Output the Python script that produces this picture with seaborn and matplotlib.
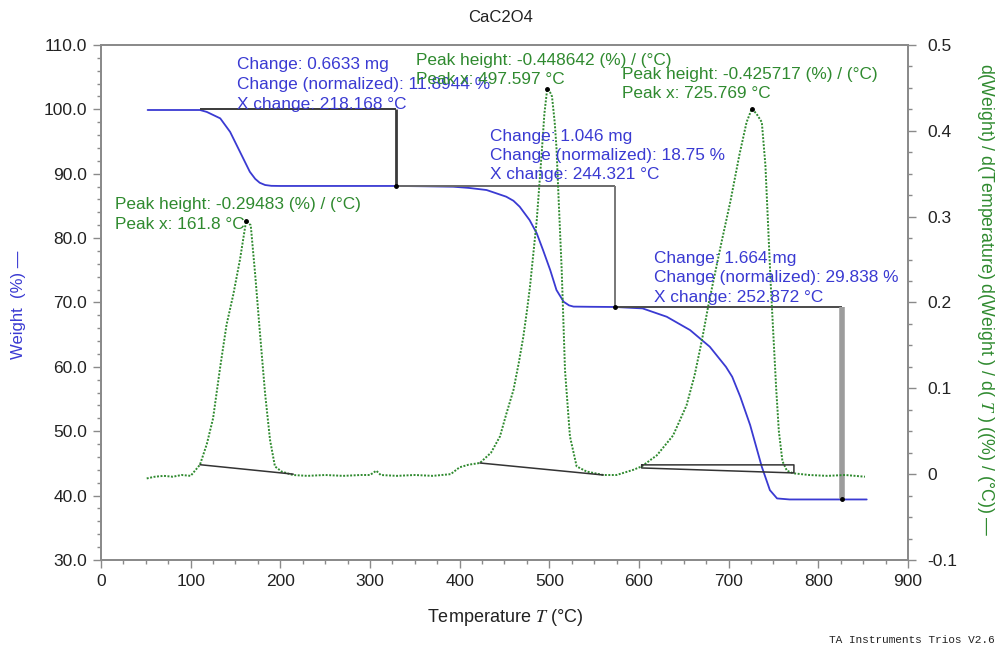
import numpy as np
import pandas as pd
import seaborn as sns
import matplotlib.pyplot as plt
from matplotlib.ticker import MultipleLocator, AutoMinorLocator, FuncFormatter

# TGA weight curve (Temperature in °C, Weight in %)
weight_temp = [52, 70, 90, 110.4, 118, 133, 144, 155, 166, 172, 177, 183, 190, 200,
               220, 260, 300, 330, 360, 393, 410, 430, 440, 452, 460, 467, 478, 486, 493, 501, 508,
               516, 522, 527, 545, 573, 604, 631, 657, 679, 697, 704, 713, 724, 737, 746,
               754, 768, 800, 854]
weight_pct = [99.9, 99.9, 99.9, 99.9, 99.6, 98.6, 96.5, 93.4, 90.3, 89.2, 88.6, 88.25, 88.12, 88.1,
              88.1, 88.1, 88.1, 88.1, 88.05, 87.98, 87.8, 87.47, 87.0, 86.43, 85.8, 84.87, 82.8, 80.74,
              78.14, 75.04, 71.93, 70.11, 69.55, 69.36, 69.33, 69.3, 69.08, 67.78, 65.71, 63.12, 60.0,
              58.45, 55.35, 50.95, 44.47, 40.85, 39.56, 39.4, 39.4, 39.4]

# DTG derivative curve (Temperature in °C, (%)/(°C))
dtg_temp = [51, 60, 70, 80, 90, 100, 110.4, 118, 125, 132.7, 140, 147.5, 155, 161.8, 167, 172,
            177, 183, 188.5, 194, 201.5, 214, 230, 250, 270, 290, 300, 307, 312, 330, 350, 370,
            390, 400, 410, 422.6, 435, 445, 452, 460, 466, 471, 475, 478.4, 482, 486, 491.5,
            494.5, 497.6, 500, 503, 506, 508, 510, 513.8, 517.5, 523, 530.5, 541.7, 560.2, 575,
            593.6, 603, 620, 638, 653, 662, 670, 678, 685, 692, 702, 712, 720, 725.8, 731, 737,
            741, 744, 747, 750, 753, 756, 760, 765, 772, 790, 810, 830, 852]
dtg_val = [-0.005, -0.003, -0.002, -0.003, -0.001, -0.002, 0.011, 0.035, 0.065, 0.123, 0.174, 0.209,
           0.25, 0.2948, 0.29, 0.232, 0.168, 0.094, 0.04, 0.009, 0.003, -0.001, -0.002, -0.001, -0.002,
           -0.001, -0.001, 0.004, -0.001, -0.002, -0.001, -0.002, 0.0, 0.008, 0.011, 0.013, 0.025, 0.044,
           0.07, 0.098, 0.13, 0.16, 0.19, 0.218, 0.255, 0.296, 0.374, 0.42, 0.4486, 0.447, 0.44, 0.41,
           0.38, 0.33, 0.238, 0.121, 0.044, 0.009, 0.003, -0.001, -0.001, 0.005, 0.009, 0.022, 0.045,
           0.08, 0.115, 0.155, 0.2, 0.235, 0.27, 0.318, 0.372, 0.41, 0.4257, 0.42, 0.41, 0.36, 0.29,
           0.22, 0.16, 0.1, 0.05, 0.015, 0.004, 0.001, -0.001, -0.002, -0.001, -0.003]

# step analysis (onset/end temperatures and weight levels)
step_temp = [110.4, 328.6, 573.2, 826.1]
step_level = [100.0, 88.106, 69.356, 39.518]

# peak integration baselines
base1_temp = [110.4, 214.4]
base1_val = [0.011, 0.0]
base2_temp = [422.6, 560.2]
base2_val = [0.013, -0.001]
base3_temp = [603, 772.8, 772.8, 603, 603]
base3_val = [0.0108, 0.0108, 0.0014, 0.0072, 0.0108]

peak_temp = [161.8, 497.597, 725.769]
peak_val = [0.29483, 0.448642, 0.425717]

blue = "#3a3ad2"
green = "#2f8a2f"
gray = "#8a8a8a"

sns.set_theme(style="ticks")
plt.rcParams["font.family"] = ["Liberation Sans", "DejaVu Sans"]
plt.rcParams["mathtext.fontset"] = "stix"
plt.rcParams["axes.unicode_minus"] = False

fig = plt.figure(figsize=(9.97, 6.5), dpi=100)
ax = fig.add_axes([0.1013, 0.1385, 0.8094, 0.7923])
ax2 = ax.twinx()

wdf = pd.DataFrame({"Temperature": weight_temp, "Weight": weight_pct})
ddf = pd.DataFrame({"Temperature": dtg_temp, "DTG": dtg_val})

sns.lineplot(data=ddf, x="Temperature", y="DTG", ax=ax2, color=green, lw=1.4,
             linestyle=(0, (1, 0.8)), sort=False, estimator=None)
sns.lineplot(data=wdf, x="Temperature", y="Weight", ax=ax, color=blue, lw=1.3,
             sort=False, estimator=None)

# step lines
hcol = ["#3a3a3a", "#6a6a6a", "#4a4a4a"]
vcol = ["#3a3a3a", "#777777", "#9c9c9c"]
vlw = [2.0, 1.4, 4.0]
for i in range(3):
    ax.hlines(step_level[i], step_temp[i], step_temp[i + 1], color=hcol[i], lw=1.4, zorder=3)
    ax.vlines(step_temp[i + 1], step_level[i + 1], step_level[i], color=vcol[i], lw=vlw[i], zorder=3)
ax.plot(step_temp[1:], step_level[1:], "o", color="black", ms=2.5, zorder=4)

# baselines
ax2.plot(base1_temp, base1_val, color="#333333", lw=1.1)
ax2.plot(base2_temp, base2_val, color="#333333", lw=1.1)
ax2.plot(base3_temp, base3_val, color="#333333", lw=1.1)
ax2.plot(peak_temp, peak_val, "o", color="black", ms=2.5)

# axes
ax.set_xlim(0, 900)
ax.set_ylim(30, 110)
ax2.set_ylim(-0.1, 0.5)
ax.xaxis.set_major_locator(MultipleLocator(100))
ax.xaxis.set_minor_locator(MultipleLocator(25))
ax.yaxis.set_major_locator(MultipleLocator(10))
ax.yaxis.set_minor_locator(AutoMinorLocator(5))
ax2.yaxis.set_major_locator(MultipleLocator(0.1))
ax2.yaxis.set_minor_locator(AutoMinorLocator(4))
ax.yaxis.set_major_formatter(FuncFormatter(lambda v, p: f"{v:.1f}"))
ax2.yaxis.set_major_formatter(FuncFormatter(lambda v, p: "0" if abs(v) < 1e-9 else f"{v:.1f}"))
ax.set_xlabel("")
ax.set_ylabel("")
ax2.set_ylabel("")

for a in (ax, ax2):
    for s in a.spines.values():
        s.set_color(gray)
        s.set_linewidth(1.3)
    a.tick_params(which="major", length=6, width=1, color=gray, labelsize=12.5,
                  labelcolor="#222222", direction="out", pad=4)
    a.tick_params(which="minor", length=3, width=1, color=gray, direction="out")
ax2.tick_params(axis="y", which="major", pad=8)

# text
fig.text(0.502, 1 - 17 / 650, "CaC2O4", ha="center", va="center", fontsize=12, color="#222222")
fig.text(505 / 997, 1 - 617 / 650, r"Temperature $\mathit{T}$ (°C)", ha="center", va="center",
         fontsize=13, color="#222222")
fig.text(18 / 997, 1 - 305 / 650, "Weight  (%) —", rotation=90, ha="center", va="center",
         fontsize=12, color=blue)
fig.text(985 / 997, 1 - 300 / 650,
         r"d(Weight) / d(Temperature) d(Weight ) / d( $\mathit{T}$ ) ((%) / (°C)) —",
         rotation=270, ha="center", va="center", fontsize=12.8, color=green)
fig.text(995 / 997, 1 - 640 / 650, "TA Instruments Trios V2.6", ha="right", va="center",
         fontsize=8, family="Liberation Mono", color="#222222")


def block(x, y, lines, color, step=19.5):
    for k, line in enumerate(lines):
        fig.text(x / 997, 1 - (y + k * step) / 650, line, ha="left", va="center",
                 fontsize=12.4, color=color)


block(237, 65, ["Change: 0.6633 mg", "Change (normalized): 11.8944 %", "X change: 218.168 °C"], blue)
block(416, 60, ["Peak height: -0.448642 (%) / (°C)", "Peak x: 497.597 °C"], green)
block(622, 74, ["Peak height: -0.425717 (%) / (°C)", "Peak x: 725.769 °C"], green)
block(490, 136, ["Change: 1.046 mg", "Change (normalized): 18.75 %", "X change: 244.321 °C"], blue)
block(115, 205, ["Peak height: -0.29483 (%) / (°C)", "Peak x: 161.8 °C"], green)
block(654, 258, ["Change: 1.664 mg", "Change (normalized): 29.838 %", "X change: 252.872 °C"], blue)

fig.savefig("out.png", dpi=100)
